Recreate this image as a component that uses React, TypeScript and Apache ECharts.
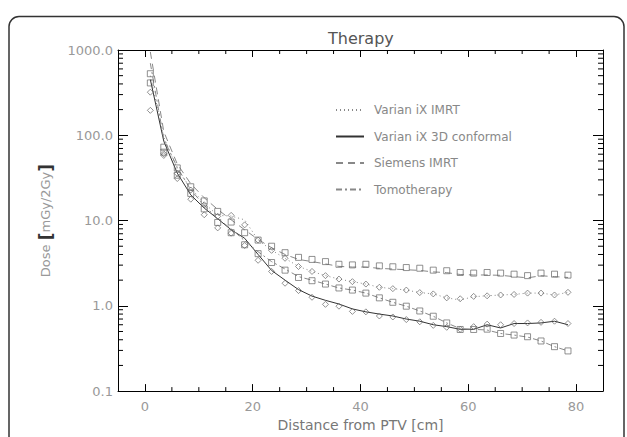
import React, { useEffect, useRef } from "react";
import * as echarts from "echarts";

// Distance from PTV [cm] for every sample
const distances = [1, 3.5, 6, 8.5, 11, 13.5, 16, 18.5, 21, 23.5, 26, 28.5, 31, 33.5, 36, 38.5, 41, 43.5, 46, 48.5, 51, 53.5, 56, 58.5, 61, 63.5, 66, 68.5, 71, 73.5, 76, 78.5];

// Curves (lines)
const varianImrtLine = [500, 95, 40, 24, 16, 11.5, 11.3, 10.2, 5.9, 4.5, 3.6, 2.9, 2.53, 2.26, 2.06, 1.92, 1.8, 1.65, 1.59, 1.53, 1.43, 1.38, 1.24, 1.17, 1.28, 1.31, 1.34, 1.36, 1.41, 1.41, 1.34, 1.44];
const varian3dLine = [450, 85, 36, 20, 14, 10.5, 7.8, 6.2, 4.0, 2.6, 2.0, 1.55, 1.3, 1.16, 1.05, 0.92, 0.85, 0.8, 0.76, 0.7, 0.66, 0.6, 0.57, 0.53, 0.53, 0.6, 0.55, 0.62, 0.62, 0.63, 0.66, 0.6];
const siemensLine = [950, 110, 46, 27, 18.5, 13.5, 10.2, 7.8, 6.0, 4.8, 4.0, 3.5, 3.3, 3.1, 2.9, 2.85, 2.85, 2.75, 2.7, 2.65, 2.6, 2.5, 2.45, 2.33, 2.3, 2.3, 2.28, 2.2, 2.13, 2.25, 2.2, 2.15];
const tomoLine = [700, 90, 42, 23, 15, 10.5, 8.0, 5.8, 4.3, 3.3, 2.7, 2.2, 2.0, 1.8, 1.62, 1.53, 1.41, 1.24, 1.1, 0.99, 0.87, 0.755, 0.63, 0.54, 0.53, 0.52, 0.474, 0.454, 0.43, 0.387, 0.332, 0.296];

// Measured points (markers)
const varianImrtPts = [320, 60.7, 35.6, 22.8, 15.3, 11.2, 11.5, 8.9, 5.9, 4.47, 3.61, 2.89, 2.53, 2.26, 2.06, 1.92, 1.8, 1.65, 1.59, 1.53, 1.43, 1.38, 1.24, 1.21, 1.29, 1.31, 1.34, 1.36, 1.41, 1.41, 1.34, 1.44];
const varian3dPts = [196, 58, 31.1, 17.8, 11.7, 8.2, 7.1, 5.1, 3.42, 2.53, 1.84, 1.51, 1.26, 1.04, 0.99, 0.86, 0.85, 0.76, 0.74, 0.69, 0.65, 0.59, 0.56, 0.53, 0.57, 0.61, 0.6, 0.62, 0.63, 0.64, 0.66, 0.62];
const siemensPts = [527, 72.5, 41.4, 24.9, 17.0, 12.8, 9.6, 7.2, 5.9, 5.0, 4.2, 3.7, 3.5, 3.3, 3.07, 3.02, 3.07, 2.94, 2.87, 2.81, 2.76, 2.62, 2.58, 2.46, 2.42, 2.46, 2.42, 2.35, 2.26, 2.42, 2.35, 2.29];
const tomoPts = [411, 63.4, 34.0, 20.8, 13.7, 9.5, 7.2, 5.2, 4.09, 3.22, 2.62, 2.15, 1.97, 1.8, 1.62, 1.53, 1.41, 1.24, 1.1, 0.99, 0.87, 0.755, 0.63, 0.528, 0.528, 0.533, 0.474, 0.454, 0.434, 0.387, 0.332, 0.296];

// Axis ticks
const xMajorTicks = [0, 20, 40, 60, 80];
const xMinorTicks = [5, 10, 15, 25, 30, 35, 45, 50, 55, 65, 70, 75];
const yMajorTicks = [0.1, 1, 10, 100, 1000];
const yMinorTicks = [0.2, 0.3, 0.4, 0.5, 0.6, 0.7, 0.8, 0.9, 2, 3, 4, 5, 6, 7, 8, 9, 20, 30, 40, 50, 60, 70, 80, 90, 200, 300, 400, 500, 600, 700, 800, 900];

const X_MIN = -5;
const X_MAX = 85;
const Y_MIN = 0.1;
const Y_MAX = 1000;

const FONT = "DejaVu Sans";

export default function App() {
  const ref = useRef<HTMLDivElement>(null);

  useEffect(() => {
    if (!ref.current) return;
    const chart = echarts.init(ref.current, null, { renderer: "svg" });

    const pairs = (vals: number[]) => distances.map((x, i) => [x, vals[i]]);

    const lineSeries = (name: string, vals: number[], color: string, type: any, width = 1) => ({
      type: "line",
      name,
      data: pairs(vals),
      symbol: "none",
      lineStyle: { color, width, type },
      itemStyle: { color },
      z: 3,
    });

    const pointSeries = (name: string, vals: number[], symbol: string, size: number) => ({
      type: "scatter",
      name,
      data: pairs(vals),
      symbol,
      symbolSize: size,
      itemStyle: { color: "rgba(0,0,0,0)", borderColor: "#666", borderWidth: 0.9 },
      z: 4,
    });

    const tickData = [
      ...yMinorTicks.map((v) => [X_MIN, v, 0]),
      ...xMinorTicks.map((v) => [v, Y_MIN, 1]),
    ];

    const axisLine = { show: true, onZero: false, lineStyle: { color: "#000", width: 1 } };

    const option: any = {
      animation: false,
      backgroundColor: "#fff",
      title: {
        text: "Therapy",
        left: 323,
        top: 25,
        textStyle: { fontFamily: FONT, fontSize: 16, fontWeight: "normal", color: "#555" },
      },
      legend: {
        orient: "vertical",
        left: 335,
        top: 104,
        padding: 0,
        itemWidth: 28,
        itemHeight: 14,
        itemGap: 14.5,
        itemStyle: { opacity: 0 },
        data: ["Varian iX IMRT", "Varian iX 3D conformal", "Siemens IMRT", "Tomotherapy"],
        textStyle: { fontFamily: FONT, fontSize: 12, color: "#888", padding: [0, 0, 0, 5] },
      },
      grid: { left: 118, right: 24, top: 50, bottom: 42 },
      xAxis: [
        {
          type: "value",
          min: X_MIN,
          max: X_MAX,
          position: "bottom",
          name: "Distance from PTV [cm]",
          nameLocation: "middle",
          nameGap: 22,
          nameTextStyle: { fontFamily: FONT, fontSize: 14, color: "#777" },
          axisLine,
          axisTick: { show: true, inside: true, length: 7, customValues: xMajorTicks, lineStyle: { color: "#000" } },
          axisLabel: { customValues: xMajorTicks, margin: 9, fontFamily: FONT, fontSize: 13, color: "#999" },
          splitLine: { show: false },
        },
        {
          type: "value",
          min: X_MIN,
          max: X_MAX,
          position: "top",
          axisLine,
          axisTick: { show: true, inside: true, length: 7, customValues: xMajorTicks, lineStyle: { color: "#000" } },
          axisLabel: { show: false, customValues: xMajorTicks },
          splitLine: { show: false },
        },
      ],
      yAxis: [
        {
          type: "log",
          logBase: 10,
          min: Y_MIN,
          max: Y_MAX,
          position: "left",
          name: "Dose {b|[}mGy/2Gy{b|]}",
          nameLocation: "middle",
          nameGap: 64,
          nameTextStyle: {
            fontFamily: FONT,
            fontSize: 13,
            color: "#999",
            rich: { b: { fontFamily: FONT, fontSize: 17, fontWeight: "bold", color: "#333" } },
          },
          axisLine,
          axisTick: { show: true, inside: true, length: 10, customValues: yMajorTicks, lineStyle: { color: "#000" } },
          axisLabel: {
            customValues: yMajorTicks,
            margin: 5,
            fontFamily: FONT,
            fontSize: 13,
            color: "#999",
            formatter: (v: number) => Number(v).toFixed(1),
          },
          splitLine: { show: false },
        },
        {
          type: "log",
          logBase: 10,
          min: Y_MIN,
          max: Y_MAX,
          position: "right",
          axisLine,
          axisTick: { show: true, inside: true, length: 10, customValues: yMajorTicks, lineStyle: { color: "#000" } },
          axisLabel: { show: false, customValues: yMajorTicks },
          splitLine: { show: false },
        },
      ],
      series: [
        lineSeries("Varian iX IMRT", varianImrtLine, "#888", [1, 3]),
        lineSeries("Varian iX 3D conformal", varian3dLine, "#333", "solid"),
        lineSeries("Siemens IMRT", siemensLine, "#888", [7, 5]),
        lineSeries("Tomotherapy", tomoLine, "#888", [6, 3, 2, 3]),
        pointSeries("Varian iX IMRT points", varianImrtPts, "diamond", 6),
        pointSeries("Varian iX 3D conformal points", varian3dPts, "diamond", 6),
        pointSeries("Siemens IMRT points", siemensPts, "rect", 6),
        pointSeries("Tomotherapy points", tomoPts, "rect", 6),
        {
          type: "custom",
          name: "minor ticks",
          data: tickData,
          clip: false,
          silent: true,
          z: 10,
          renderItem: (params: any, api: any) => {
            const kind = api.value(2);
            const style = { stroke: "#000", lineWidth: 1 };
            if (kind === 0) {
              const v = api.value(1);
              const l = api.coord([X_MIN, v]);
              const r = api.coord([X_MAX, v]);
              return {
                type: "group",
                children: [
                  { type: "line", shape: { x1: l[0], y1: l[1], x2: l[0] + 5, y2: l[1] }, style },
                  { type: "line", shape: { x1: r[0], y1: r[1], x2: r[0] - 5, y2: r[1] }, style },
                ],
              };
            }
            const x = api.value(0);
            const b = api.coord([x, Y_MIN]);
            const t = api.coord([x, Y_MAX]);
            return {
              type: "group",
              children: [
                { type: "line", shape: { x1: b[0], y1: b[1], x2: b[0], y2: b[1] - 4 }, style },
                { type: "line", shape: { x1: t[0], y1: t[1], x2: t[0], y2: t[1] + 4 }, style },
              ],
            };
          },
        },
      ],
      graphic: [
        {
          type: "rect",
          silent: true,
          z: -1,
          shape: { x: 9, y: 16.5, width: 615, height: 470, r: 10 },
          style: { fill: "none", stroke: "#333", lineWidth: 1.5 },
        },
      ],
    };

    chart.setOption(option);
    return () => chart.dispose();
  }, []);

  return (
    <div
      ref={ref}
      style={{ position: "fixed", left: 0, top: 0, width: 627, height: 437, background: "#fff" }}
    />
  );
}
